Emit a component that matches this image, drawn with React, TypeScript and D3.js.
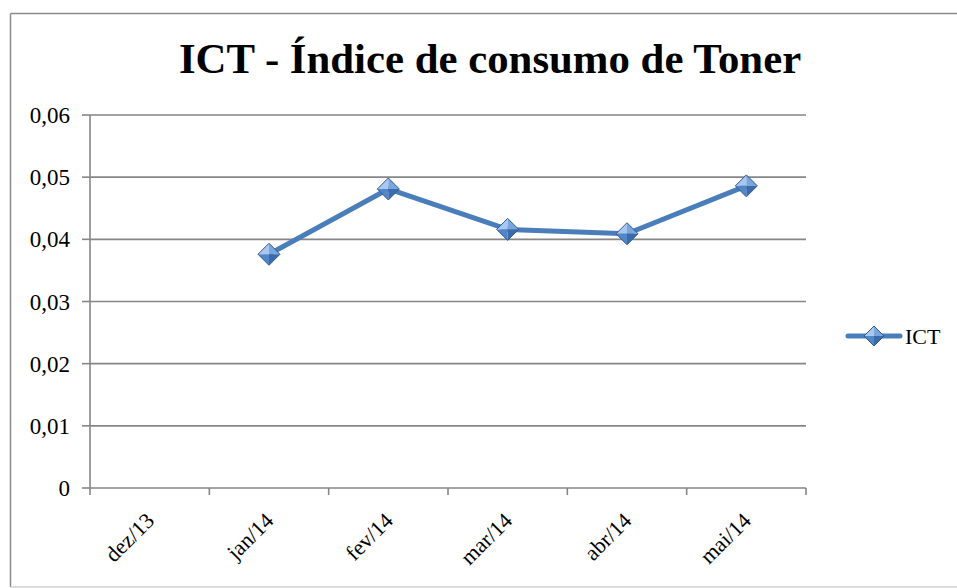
import React from 'react';
import * as d3 from 'd3';

const categories = ['dez/13', 'jan/14', 'fev/14', 'mar/14', 'abr/14', 'mai/14'];
const ictValues: (number | null)[] = [null, 0.0376, 0.0481, 0.0416, 0.0409, 0.0486];
const yTicks = [0, 0.01, 0.02, 0.03, 0.04, 0.05, 0.06];
const seriesName = 'ICT';
const title = 'ICT - Índice de consumo de Toner';

const width = 957;
const height = 588;
const margin = { top: 115, left: 90, bottom: 100, right: 151 };

const font = "'Times New Roman', 'Liberation Serif', serif";
const gridColor = '#868686';
const lineColor = '#4a7ebb';

const Diamond = ({ cx, cy, r = 11 }: { cx: number; cy: number; r?: number }) => (
  <g transform={`translate(${cx},${cy})`}>
    <path d={`M0,${-r}L${-r},0L0,0Z`} fill="#a9c8f0" />
    <path d={`M0,${-r}L${r},0L0,0Z`} fill="#7aa6de" />
    <path d={`M${-r},0L0,${r}L0,0Z`} fill="#5186c8" />
    <path d={`M${r},0L0,${r}L0,0Z`} fill="#3b6bab" />
    <path d={`M0,${-r}L${r},0L0,${r}L${-r},0Z`} fill="none" stroke="#2f5a8f" strokeWidth={1} />
  </g>
);

export default function App() {
  const iw = width - margin.left - margin.right;
  const ih = height - margin.top - margin.bottom;

  const x = d3.scaleBand<string>().domain(categories).range([0, iw]);
  const y = d3.scaleLinear().domain([0, 0.06]).range([ih, 0]);
  const fmt = (v: number) => (v === 0 ? '0' : d3.format('.2f')(v).replace('.', ','));

  const pts = categories.map((c, i) => ({ c, v: ictValues[i] }));
  const line = d3
    .line<{ c: string; v: number | null }>()
    .defined((d) => d.v !== null)
    .x((d) => (x(d.c) ?? 0) + x.bandwidth() / 2)
    .y((d) => y(d.v as number));

  const boundaries = d3.range(categories.length + 1).map((i) => i * x.bandwidth());

  return (
    <div style={{ position: 'absolute', left: 0, top: 0 }}>
      <svg width={width} height={height} style={{ display: 'block', background: '#fff', fontFamily: font }}>
        {/* chart frame */}
        <line x1={10.5} y1={13.5} x2={width} y2={13.5} stroke="#8a8a8a" strokeWidth={1.5} />
        <line x1={10.5} y1={13.5} x2={10.5} y2={587} stroke="#8a8a8a" strokeWidth={1.5} />
        <line x1={10.5} y1={587} x2={width} y2={587} stroke="#cfcfcf" strokeWidth={1.5} />

        <text x={490} y={73} textAnchor="middle" style={{ fontFamily: font, fontWeight: 'bold', fontSize: 42.8 }} fill="#000">
          {title}
        </text>

        <g transform={`translate(${margin.left},${margin.top})`}>
          {yTicks.map((t) => (
            <g key={t} transform={`translate(0,${y(t)})`}>
              <line x1={0} x2={iw} stroke={gridColor} strokeWidth={1.6} />
              <line x1={-8} x2={0} stroke={gridColor} strokeWidth={1.6} />
              <text x={-20} dy="0.35em" textAnchor="end" style={{ fontFamily: font, fontSize: 23 }} fill="#000">
                {fmt(t)}
              </text>
            </g>
          ))}
          <line x1={0} x2={0} y1={0} y2={ih} stroke={gridColor} strokeWidth={1.6} />
          {boundaries.map((b, i) => (
            <line key={i} x1={b} x2={b} y1={ih} y2={ih + 7} stroke={gridColor} strokeWidth={1.6} />
          ))}
          {categories.map((c) => {
            const cx = (x(c) ?? 0) + x.bandwidth() / 2 - 5;
            const cy = ih + 23;
            return (
              <text
                key={c}
                transform={`translate(${cx},${cy}) rotate(-45)`}
                textAnchor="end"
                dy="0.7em"
                style={{ fontFamily: font, fontSize: 22 }}
                fill="#000"
              >
                {c}
              </text>
            );
          })}

          <path d={line(pts) ?? ''} fill="none" stroke={lineColor} strokeWidth={5} strokeLinejoin="round" />
          {pts
            .filter((d) => d.v !== null)
            .map((d) => (
              <Diamond key={d.c} cx={(x(d.c) ?? 0) + x.bandwidth() / 2} cy={y(d.v as number)} />
            ))}
        </g>

        {/* legend */}
        <g transform="translate(846,336)">
          <line x1={2} x2={54} stroke={lineColor} strokeWidth={5} strokeLinecap="round" />
          <Diamond cx={28} cy={0} r={10} />
          <text x={59} dy="0.35em" style={{ fontFamily: font, fontSize: 22 }} fill="#000">
            {seriesName}
          </text>
        </g>
      </svg>
    </div>
  );
}
